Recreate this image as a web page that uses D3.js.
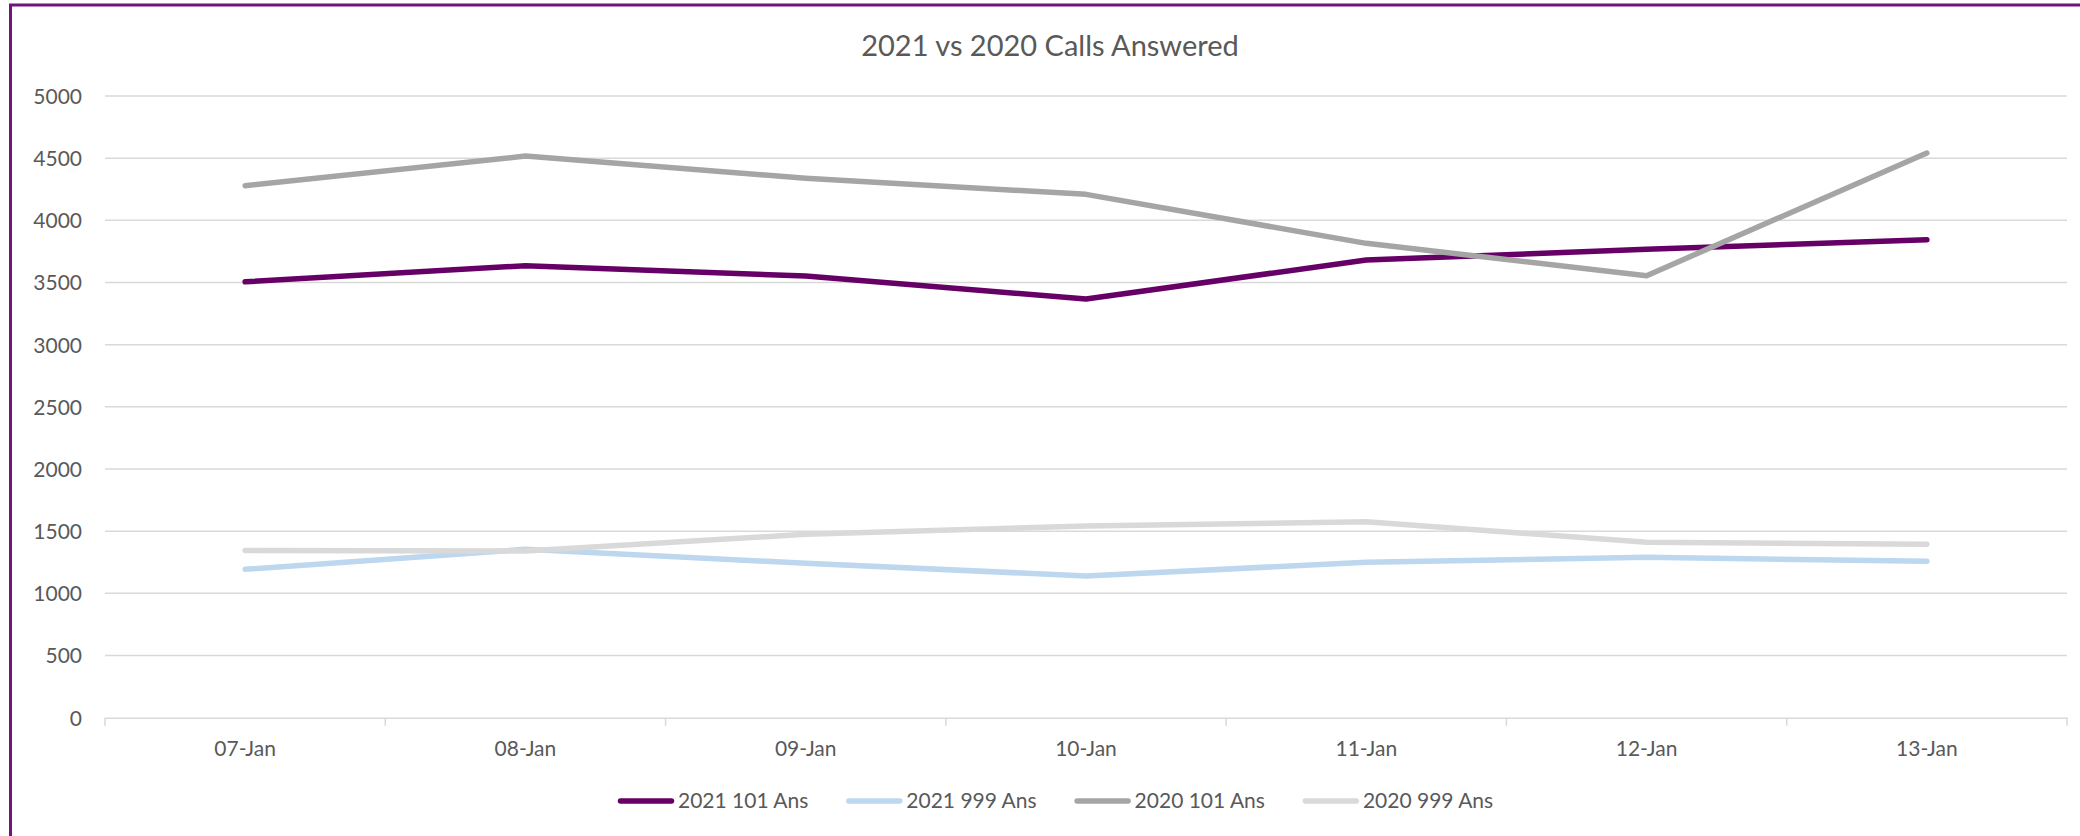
<!DOCTYPE html>
<html>
<head>
<meta charset="utf-8">
<script src="https://cdn.jsdelivr.net/npm/d3@7"></script>
<style>
  html, body { margin: 0; padding: 0; background: #fff; }
  svg { display: block; }
  text { font-family: Lato, "Open Sans", sans-serif; fill: #595959; }
</style>
</head>
<body>
<svg id="chart" width="2080" height="836"></svg>
<script>
const categories = ["07-Jan", "08-Jan", "09-Jan", "10-Jan", "11-Jan", "12-Jan", "13-Jan"];
const seriesNames = ["2021 101 Ans", "2021 999 Ans", "2020 101 Ans", "2020 999 Ans"];
const s2021_101 = [3506, 3635, 3552, 3367, 3681, 3767, 3844];
const s2021_999 = [1193, 1354, 1242, 1140, 1250, 1290, 1258];
const s2020_101 = [4279, 4517, 4338, 4209, 3815, 3555, 4541];
const s2020_999 = [1345, 1340, 1475, 1542, 1576, 1411, 1395];
const yTicks = [0, 500, 1000, 1500, 2000, 2500, 3000, 3500, 4000, 4500, 5000];
const title = "2021 vs 2020 Calls Answered";
const colors = ["#660066", "#bdd7ee", "#a5a5a5", "#d9d9d9"];

const seriesValues = [s2021_101, s2021_999, s2020_101, s2020_999];

(function () {
const svg = d3.select("#chart");
const W = 2080, H = 836;
const pLeft = 105, pRight = 2067, pTop = 96, pBottom = 717.7;

// Outer border (purple)
svg.append("rect")
  .attr("x", 10.5).attr("y", 5).attr("width", W + 20).attr("height", H + 20)
  .attr("fill", "none").attr("stroke", "#72157a").attr("stroke-width", 3);

const x = d3.scaleBand().domain(categories).range([pLeft, pRight]).padding(0);
const y = d3.scaleLinear().domain([0, 5000]).range([pBottom, pTop]);

// Gridlines
svg.append("g")
  .selectAll("line").data(yTicks.filter(d => d > 0)).join("line")
  .attr("x1", pLeft).attr("x2", pRight)
  .attr("y1", d => y(d)).attr("y2", d => y(d))
  .attr("stroke", "#d9d9d9").attr("stroke-width", 1.5);

// Y axis labels
const yAxis = d3.axisLeft(y).tickValues(yTicks).tickFormat(d3.format("d")).tickSize(0).tickPadding(0);
const gy = svg.append("g").attr("transform", `translate(${pLeft - 23},0)`).call(yAxis);
gy.select(".domain").remove();
gy.selectAll("text").attr("font-size", 21).attr("font-family", "Lato").attr("fill", "#595959")
  .attr("dy", "0.35em");

// X axis
const xAxis = d3.axisBottom(x).tickSize(0).tickPadding(0);
const gx = svg.append("g").attr("transform", `translate(0,${pBottom})`).call(xAxis);
gx.select(".domain").attr("stroke", "#d9d9d9").attr("stroke-width", 1.5);
gx.selectAll("text").attr("font-size", 21).attr("font-family", "Lato").attr("fill", "#595959")
  .attr("y", 31).attr("dy", "0.35em");

// X ticks at band boundaries
const bounds = categories.map(c => x(c)).concat([x(categories[categories.length - 1]) + x.bandwidth()]);
svg.append("g").selectAll("line").data(bounds).join("line")
  .attr("x1", d => d).attr("x2", d => d)
  .attr("y1", pBottom).attr("y2", pBottom + 8)
  .attr("stroke", "#d9d9d9").attr("stroke-width", 1.5);

// Lines
const line = d3.line()
  .x((d, i) => x(categories[i]) + x.bandwidth() / 2)
  .y(d => y(d));

seriesValues.forEach((vals, i) => {
  svg.append("path")
    .datum(vals)
    .attr("d", line)
    .attr("fill", "none")
    .attr("stroke", colors[i])
    .attr("stroke-width", 5.5)
    .attr("stroke-linecap", "round")
    .attr("stroke-linejoin", "round");
});

// Title
svg.append("text")
  .attr("x", 1050).attr("y", 46)
  .attr("text-anchor", "middle").attr("dy", "0.35em")
  .attr("font-size", 29).attr("font-family", "Lato").attr("fill", "#595959")
  .text(title);

// Legend
const legend = svg.append("g");
let lx = 618;
const ly = 801;
seriesNames.forEach((name, i) => {
  legend.append("line")
    .attr("x1", lx + 2.5).attr("x2", lx + 53.5)
    .attr("y1", ly).attr("y2", ly)
    .attr("stroke", colors[i]).attr("stroke-width", 5.5).attr("stroke-linecap", "round");
  const t = legend.append("text")
    .attr("x", lx + 60).attr("y", ly).attr("dy", "0.35em")
    .attr("font-size", 21).attr("font-family", "Lato").attr("fill", "#595959")
    .text(name);
  const w = t.node().getComputedTextLength();
  lx = lx + 60 + w + 38;
});
})();
</script>
</body>
</html>
